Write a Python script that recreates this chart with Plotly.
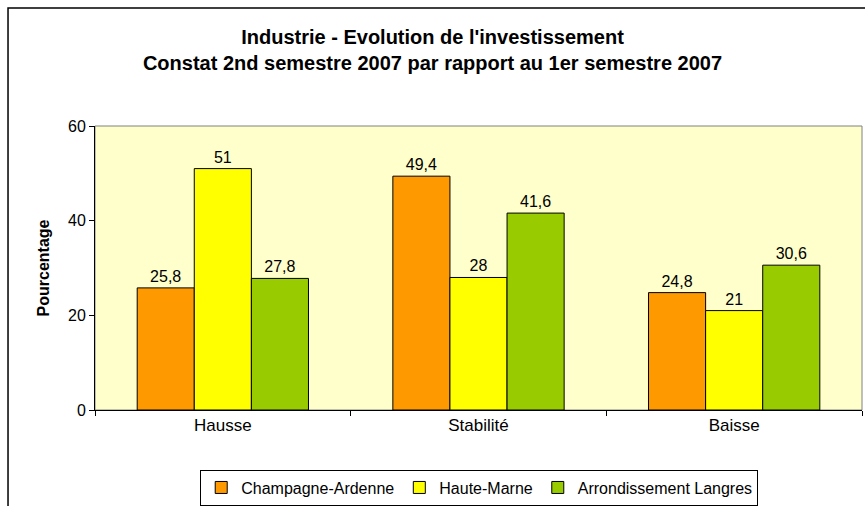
import plotly.graph_objects as go

categories = ["Hausse", "Stabilité", "Baisse"]
champagne = [25.8, 49.4, 24.8]
haute_marne = [51, 28, 21]
langres = [27.8, 41.6, 30.6]

series = [
    ("Champagne-Ardenne", champagne, "#FF9900"),
    ("Haute-Marne", haute_marne, "#FFFF00"),
    ("Arrondissement Langres", langres, "#99CC00"),
]

def fr(v):
    return f"{v:g}".replace(".", ",")

fig = go.Figure()
for name, vals, color in series:
    fig.add_trace(go.Bar(
        x=categories, y=vals, name=name,
        marker=dict(color=color, line=dict(color="black", width=1)),
        text=[fr(v) for v in vals], textposition="outside",
        textfont=dict(size=16, color="black"),
        cliponaxis=False,
    ))

fig.update_layout(
    width=865, height=506,
    margin=dict(l=95, r=3, t=126, b=96),
    paper_bgcolor="white",
    plot_bgcolor="#FFFFCC",
    font=dict(family="Liberation Sans, Arial", size=16, color="black"),
    barmode="group",
    bargap=0.33,
    bargroupgap=0,
    title=dict(
        text="<b>Industrie - Evolution de l'investissement<br>Constat 2nd semestre 2007 par rapport au 1er semestre 2007</b>",
        x=0.5, xanchor="center", y=0.914, yanchor="top",
        font=dict(size=20),
    ),
    xaxis=dict(
        showline=True, linecolor="black", linewidth=1,
        ticks="outside", tickson="boundaries", ticklen=5, tickcolor="black",
        showgrid=False, tickfont=dict(size=17),
    ),
    yaxis=dict(
        range=[0, 60], dtick=20,
        showline=True, linecolor="black", linewidth=1,
        ticks="outside", ticklen=5, tickcolor="black",
        showgrid=False, zeroline=False, tickfont=dict(size=16),
        title=dict(text="<b>Pourcentage</b>", font=dict(size=16), standoff=14),
    ),
    legend=dict(
        orientation="h", xref="container", yref="container",
        x=0.554, xanchor="center", y=0.072, yanchor="top",
        bordercolor="black", borderwidth=1, font=dict(size=16),
        itemwidth=30,
    ),
    shapes=[
        dict(type="rect", xref="paper", yref="paper", x0=0, x1=1, y0=0, y1=1,
             line=dict(color="#808080", width=1), layer="below"),
        dict(type="rect", xref="paper", yref="paper", x0=-0.1134, x1=1.2, y0=-0.5, y1=1.4155,
             line=dict(color="black", width=1.5), fillcolor="rgba(0,0,0,0)"),
    ],
)

# drop the default body margin so the figure sits at the page origin
fig.write_html("out.html", config={"displayModeBar": False},
               post_script="document.body.style.margin='0';")
